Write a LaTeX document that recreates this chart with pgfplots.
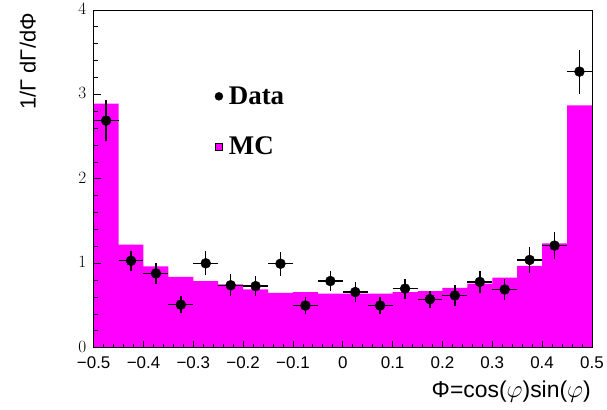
\documentclass[border=0pt]{standalone}
\usepackage{fontspec}
\setmainfont{Liberation Sans}
\newfontfamily\timesfont{Liberation Serif}
\usepackage{pgfplots}
\usepackage{pgfplotstable}
\pgfplotsset{compat=1.18}
\definecolor{rootmag}{RGB}{255,0,255}

% MC histogram: left bin edge, height (last row closes the final bin)
\pgfplotstableread{
x y
-0.50 2.89
-0.45 1.22
-0.40 0.965
-0.35 0.84
-0.30 0.79
-0.25 0.75
-0.20 0.69
-0.15 0.65
-0.10 0.66
-0.05 0.64
0.00 0.64
0.05 0.64
0.10 0.66
0.15 0.67
0.20 0.71
0.25 0.76
0.30 0.83
0.35 0.97
0.40 1.235
0.45 2.87
0.50 2.87
}\mctable

% data points: bin centre, value, x and y errors
\pgfplotstableread{
x y ex ey
-0.475 2.69 0.025 0.24
-0.425 1.03 0.025 0.12
-0.375 0.88 0.025 0.12
-0.325 0.51 0.025 0.10
-0.275 1.00 0.025 0.14
-0.225 0.74 0.025 0.13
-0.175 0.73 0.025 0.12
-0.125 0.995 0.025 0.14
-0.075 0.50 0.025 0.10
-0.025 0.79 0.025 0.12
0.025 0.66 0.025 0.12
0.075 0.50 0.025 0.10
0.125 0.70 0.025 0.12
0.175 0.575 0.025 0.10
0.225 0.62 0.025 0.12
0.275 0.78 0.025 0.13
0.325 0.69 0.025 0.13
0.375 1.04 0.025 0.15
0.425 1.21 0.025 0.16
0.475 3.27 0.025 0.26
}\datatable

\begin{document}
\begin{tikzpicture}
\begin{axis}[
    scale only axis, width=500pt, height=339pt,
    xmin=-0.5, xmax=0.5, ymin=0, ymax=4,
    axis on top, clip=false,
    tick pos=left, tick align=inside,
    xtick={-0.5,-0.4,-0.3,-0.2,-0.1,0,0.1,0.2,0.3,0.4,0.5},
    xticklabels={−0.5,−0.4,−0.3,−0.2,−0.1,0,0.1,0.2,0.3,0.4,0.5},
    ytick={0,1,2,3,4},
    minor x tick num=4, minor y tick num=4,
    major tick length=7pt, minor tick length=4pt,
    tick style={black, line width=0.8pt},
    axis line style={line width=0.8pt},
    ticklabel style={font=\fontsize{17}{20}\selectfont},
    xticklabel style={yshift=-5pt},
    yticklabel style={xshift=-4pt, yshift=1pt},
    xlabel={Φ=cos($\varphi$)sin($\varphi$)},
    xlabel style={at={(axis description cs:1,0)}, anchor=base east, inner sep=0pt,
        xshift=-1pt, yshift=-50pt, font=\fontsize{23}{26}\selectfont},
    ylabel={1/Γ dΓ/dΦ},
    ylabel style={at={(axis description cs:-0.132,1)}, anchor=east, inner sep=0pt,
        yshift=0pt, xshift=-3pt, font=\fontsize{22}{25}\selectfont},
    legend style={draw=none, fill=none, at={(axis cs:-0.263,3.14)}, anchor=north west,
        font=\timesfont\bfseries\fontsize{27}{30}\selectfont, row sep=27pt, column sep=4pt},
    legend cell align=left,
]
\addplot[ybar interval, fill=rootmag, draw=none, forget plot] table[x=x, y=y] {\mctable};
\addplot[only marks, mark=*, mark size=5pt, black, forget plot,
    error bars/.cd, x dir=both, x explicit, y dir=both, y explicit,
    error mark=none, error bar style={line width=1.4pt, black}]
    table[x=x, y=y, x error=ex, y error=ey] {\datatable};
\addlegendimage{only marks, mark=*, mark size=4pt, black}
\addlegendentry{Data}
\addlegendimage{only marks, mark=square*, mark size=3.6pt, draw=none, fill=rootmag}
\addlegendentry{MC}
\path (axis cs:-0.688,-0.7316) rectangle (axis cs:0.526,4.118);
\end{axis}
\end{tikzpicture}
\end{document}
